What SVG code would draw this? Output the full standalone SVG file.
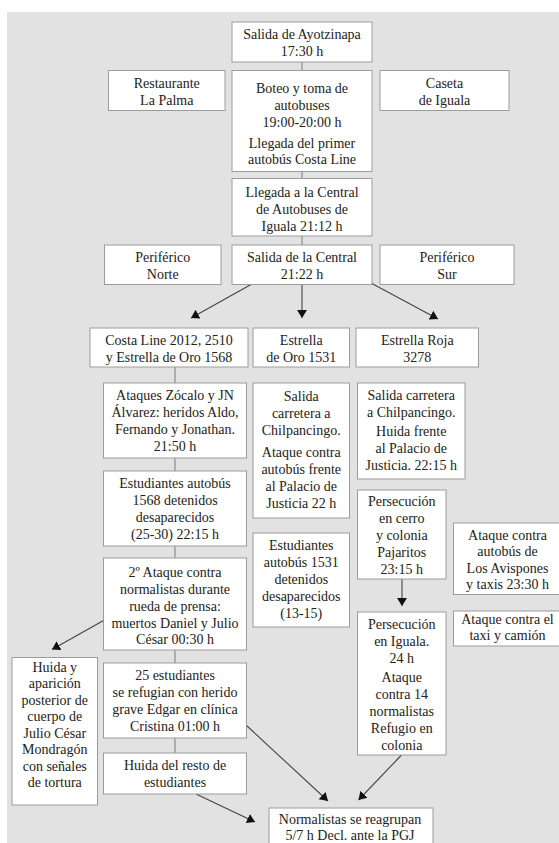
<svg xmlns="http://www.w3.org/2000/svg" width="559" height="843" viewBox="0 0 559 843">
<style>
.bg{fill:#e2e2e2}
.box{fill:#ffffff;stroke:#9c9c9c;stroke-width:1}
.t{font-family:"Liberation Serif","Times New Roman","DejaVu Serif",serif;font-size:14px;fill:#222;text-anchor:middle}
.ln{stroke:#8a8a8a;stroke-width:1.2;fill:none}
.ar{stroke:#444;stroke-width:1.1;fill:none;marker-end:url(#ah)}
</style>
<defs>
<marker id="ah" markerUnits="userSpaceOnUse" markerWidth="12" markerHeight="12" refX="8" refY="5.5" orient="auto">
<path d="M0,0.5 L8,5.5 L0,10.5 Z" fill="#111"/>
</marker>
</defs>
<rect x="0" y="0" width="559" height="843" fill="#ffffff"/>
<rect class="bg" x="7" y="12" width="552" height="831"/>

<g id="connectors">
<line class="ln" x1="302" y1="62" x2="302" y2="70.5"/>
<line class="ln" x1="302" y1="171.5" x2="302" y2="178.5"/>
<line class="ln" x1="302" y1="236" x2="302" y2="245"/>
<line class="ln" x1="175" y1="367" x2="175" y2="383"/>
<line class="ln" x1="175" y1="458" x2="175" y2="471"/>
<line class="ln" x1="175" y1="546" x2="175" y2="558"/>
<line class="ln" x1="175" y1="650" x2="175" y2="663"/>
<line class="ln" x1="175" y1="738" x2="175" y2="753"/>
<line class="ar" x1="251" y1="284.5" x2="191" y2="318"/>
<line class="ar" x1="302" y1="284.5" x2="302" y2="318"/>
<line class="ar" x1="371" y1="283" x2="438" y2="319"/>
<line class="ar" x1="402" y1="579" x2="402" y2="606"/>
<line class="ar" x1="103.5" y1="620.5" x2="52" y2="649.5"/>
<line class="ar" x1="246.5" y1="725.5" x2="328" y2="801"/>
<line class="ar" x1="401.5" y1="755" x2="358.5" y2="800"/>
<line class="ar" x1="196" y1="794" x2="255" y2="822"/>
</g>

<g id="n1"><rect class="box" x="232" y="22" width="140" height="40"/>
<text class="t" x="302" y="39">Salida de Ayotzinapa</text><text class="t" x="302" y="56">17:30 h</text></g>

<g id="n2"><rect class="box" x="108.5" y="70.5" width="116.5" height="40"/>
<text class="t" x="166.75" y="87.5">Restaurante</text><text class="t" x="166.75" y="104.5">La Palma</text></g>

<g id="n3"><rect class="box" x="232" y="70.5" width="140" height="101"/>
<text class="t" x="302" y="93">Boteo y toma de</text><text class="t" x="302" y="110">autobuses</text><text class="t" x="302" y="126.5">19:00-20:00 h</text><text class="t" x="302" y="147.5">Llegada del primer</text><text class="t" x="302" y="164">autobús Costa Line</text></g>

<g id="n4"><rect class="box" x="380" y="70.5" width="129" height="40"/>
<text class="t" x="444.5" y="87.5">Caseta</text><text class="t" x="444.5" y="104.5">de Iguala</text></g>

<g id="n5"><rect class="box" x="232" y="178.5" width="140" height="57.5"/>
<text class="t" x="302" y="196.5">Llegada a la Central</text><text class="t" x="302" y="213.5">de Autobuses de</text><text class="t" x="302" y="230.5">Iguala 21:12 h</text></g>

<g id="n6"><rect class="box" x="104.5" y="245" width="116.5" height="39.5"/>
<text class="t" x="162.75" y="262">Periférico</text><text class="t" x="162.75" y="279">Norte</text></g>

<g id="n7"><rect class="box" x="232" y="245" width="140" height="39.5"/>
<text class="t" x="302" y="262">Salida de la Central</text><text class="t" x="302" y="279">21:22 h</text></g>

<g id="n8"><rect class="box" x="380" y="245" width="134" height="39.5"/>
<text class="t" x="447" y="262">Periférico</text><text class="t" x="447" y="279">Sur</text></g>

<g id="n9"><rect class="box" x="90" y="328" width="158" height="39"/>
<text class="t" x="169" y="344.5">Costa Line 2012, 2510</text><text class="t" x="169" y="361.5">y Estrella de Oro 1568</text></g>

<g id="n10"><rect class="box" x="253" y="328" width="96.5" height="39"/>
<text class="t" x="301.25" y="344.5">Estrella</text><text class="t" x="301.25" y="361.5">de Oro 1531</text></g>

<g id="n11"><rect class="box" x="356" y="328" width="122.5" height="39"/>
<text class="t" x="417.25" y="344.5">Estrella Roja</text><text class="t" x="417.25" y="361.5">3278</text></g>

<g id="n12"><rect class="box" x="103.5" y="383" width="143" height="75"/>
<text class="t" x="175" y="400">Ataques Zócalo y JN</text><text class="t" x="175" y="417">Álvarez: heridos Aldo,</text><text class="t" x="175" y="434">Fernando y Jonathan.</text><text class="t" x="175" y="451">21:50 h</text></g>

<g id="n13"><rect class="box" x="253" y="383" width="96.5" height="135"/>
<text class="t" x="301.25" y="401">Salida</text><text class="t" x="301.25" y="418">carretera a</text><text class="t" x="301.25" y="435">Chilpancingo.</text><text class="t" x="301.25" y="457">Ataque contra</text><text class="t" x="301.25" y="474">autobús frente</text><text class="t" x="301.25" y="491">al Palacio de</text><text class="t" x="301.25" y="508">Justicia 22 h</text></g>

<g id="n14"><rect class="box" x="357.5" y="383" width="107.5" height="96"/>
<text class="t" x="411.25" y="400">Salida carretera</text><text class="t" x="411.25" y="417">a Chilpancingo.</text><text class="t" x="411.25" y="436">Huida frente</text><text class="t" x="411.25" y="453">al Palacio de</text><text class="t" x="411.25" y="470">Justicia. 22:15 h</text></g>

<g id="n15"><rect class="box" x="103.5" y="471" width="143" height="75"/>
<text class="t" x="175" y="488">Estudiantes autobús</text><text class="t" x="175" y="505">1568 detenidos</text><text class="t" x="175" y="522">desaparecidos</text><text class="t" x="175" y="539">(25-30) 22:15 h</text></g>

<g id="n16"><rect class="box" x="357.5" y="490" width="88.5" height="89"/>
<text class="t" x="401.75" y="506">Persecución</text><text class="t" x="401.75" y="523">en cerro</text><text class="t" x="401.75" y="540">y colonia</text><text class="t" x="401.75" y="557">Pajaritos</text><text class="t" x="401.75" y="574">23:15 h</text></g>

<g id="n17"><rect class="box" x="253" y="533" width="96.5" height="94"/>
<text class="t" x="301.25" y="550">Estudiantes</text><text class="t" x="301.25" y="567">autobús 1531</text><text class="t" x="301.25" y="584">detenidos</text><text class="t" x="301.25" y="601">desaparecidos</text><text class="t" x="301.25" y="618">(13-15)</text></g>

<g id="n18"><rect class="box" x="453.5" y="523" width="108" height="71.5"/>
<text class="t" x="507.5" y="539.5">Ataque contra</text><text class="t" x="507.5" y="556">autobús de</text><text class="t" x="507.5" y="572.5">Los Avispones</text><text class="t" x="507.5" y="589">y taxis 23:30 h</text></g>

<g id="n19"><rect class="box" x="103.5" y="558" width="143" height="92"/>
<text class="t" x="175" y="577">2º Ataque contra</text><text class="t" x="175" y="594">normalistas durante</text><text class="t" x="175" y="610.5">rueda de prensa:</text><text class="t" x="175" y="627.5">muertos Daniel y Julio</text><text class="t" x="175" y="644">César 00:30 h</text></g>

<g id="n20"><rect class="box" x="453.5" y="611" width="108" height="35"/>
<text class="t" x="507.5" y="624">Ataque contra el</text><text class="t" x="507.5" y="640">taxi y camión</text></g>

<g id="n21"><rect class="box" x="357.5" y="612" width="88.5" height="143"/>
<text class="t" x="401.75" y="629">Persecución</text><text class="t" x="401.75" y="646">en Iguala.</text><text class="t" x="401.75" y="663">24 h</text><text class="t" x="401.75" y="682">Ataque</text><text class="t" x="401.75" y="699">contra 14</text><text class="t" x="401.75" y="716">normalistas</text><text class="t" x="401.75" y="733">Refugio en</text><text class="t" x="401.75" y="750">colonia</text></g>

<g id="n22"><rect class="box" x="12" y="657.5" width="85.5" height="147.5"/>
<text class="t" x="54.75" y="672">Huida y</text><text class="t" x="54.75" y="688">aparición</text><text class="t" x="54.75" y="704.5">posterior de</text><text class="t" x="54.75" y="721">cuerpo de</text><text class="t" x="54.75" y="737.5">Julio César</text><text class="t" x="54.75" y="754">Mondragón</text><text class="t" x="54.75" y="770.5">con señales</text><text class="t" x="54.75" y="787">de tortura</text></g>

<g id="n23"><rect class="box" x="103.5" y="663" width="143" height="75"/>
<text class="t" x="175" y="680">25 estudiantes</text><text class="t" x="175" y="697">se refugian con herido</text><text class="t" x="175" y="714">grave Edgar en clínica</text><text class="t" x="175" y="731">Cristina 01:00 h</text></g>

<g id="n24"><rect class="box" x="103.5" y="753" width="143" height="41"/>
<text class="t" x="175" y="770">Huida del resto de</text><text class="t" x="175" y="787">estudiantes</text></g>

<g id="n25"><rect class="box" x="269" y="808" width="164" height="45"/>
<text class="t" x="350" y="823.5">Normalistas se reagrupan</text><text class="t" x="350" y="839.5">5/7 h Decl. ante la PGJ</text></g>
</svg>
